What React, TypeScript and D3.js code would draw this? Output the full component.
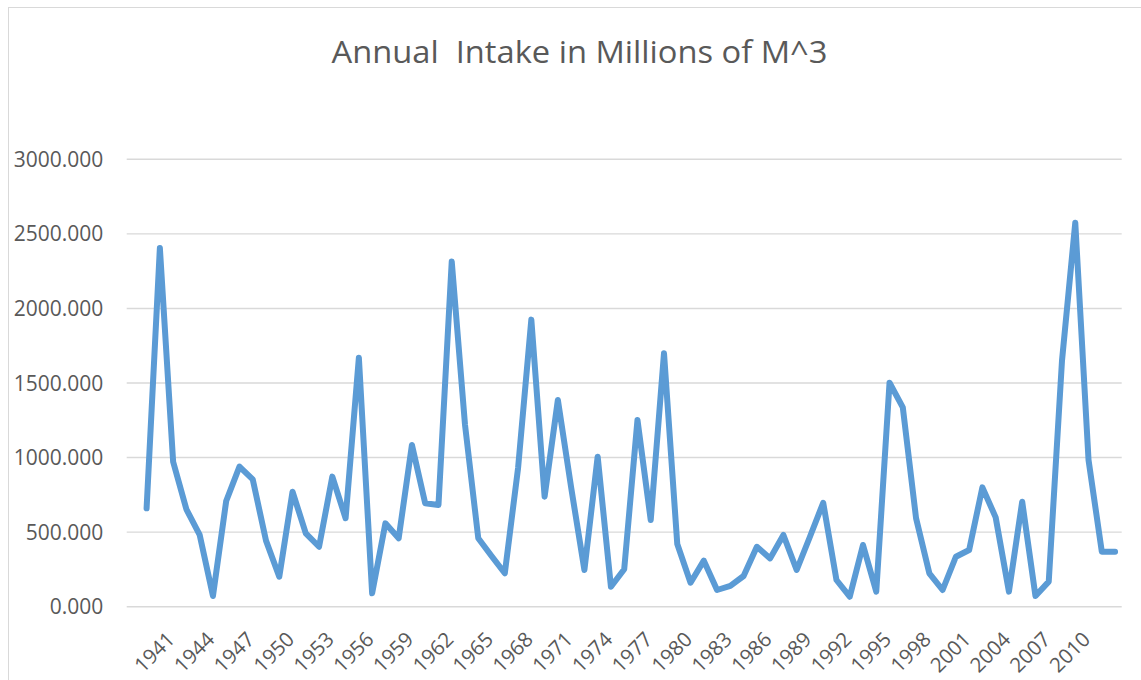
import React from "react";
import * as d3 from "d3";

const TITLE = "Annual  Intake in Millions of M^3";

const categories: string[] = [
  "", "1939", "1940", "1941", "1942", "1943", "1944", "1945", "1946", "1947", "1948",
  "1949", "1950", "1951", "1952", "1953", "1954", "1955", "1956", "1957", "1958",
  "1959", "1960", "1961", "1962", "1963", "1964", "1965", "1966", "1967", "1968",
  "1969", "1970", "1971", "1972", "1973", "1974", "1975", "1976", "1977", "1978",
  "1979", "1980", "1981", "1982", "1983", "1984", "1985", "1986", "1987", "1988",
  "1989", "1990", "1991", "1992", "1993", "1994", "1995", "1996", "1997", "1998",
  "1999", "2000", "2001", "2002", "2003", "2004", "2005", "2006", "2007", "2008",
  "2009", "2010", "2011", "2012",
];

const intake: (number | null)[] = [
  null, 660, 2405, 972, 653, 481, 72, 709, 939, 854, 443,
  201, 771, 492, 402, 872, 593, 1670, 90, 559, 459,
  1084, 693, 682, 2314, 1220, 459, 340, 224, 930, 1925,
  738, 1386, 800, 246, 1006, 134, 251, 1252, 581, 1699,
  420, 161, 309, 112, 139, 206, 402, 324, 481, 246,
  469, 697, 179, 67, 414, 101, 1502, 1337, 593, 224,
  112, 335, 380, 800, 599, 101, 704, 72, 168, 1650,
  2575, 984, 369, 369,
];

const yTicks: number[] = [0, 500, 1000, 1500, 2000, 2500, 3000];

const W = 1141;
const H = 680;
const left = 126.7;
const right = 1121.7;
const top = 159.3;
const bottom = 606.7;
const FONT = "'Open Sans', 'Noto Sans', sans-serif";
const TEXT = "#595959";

export default function App() {
  const x = d3.scaleBand<string>().domain(categories.map((c, i) => String(i))).range([left, right]).padding(0);
  const bw = x.bandwidth();
  const cx = (i: number) => (x(String(i)) as number) + bw / 2;
  const y = d3.scaleLinear().domain([0, 3000]).range([bottom, top]);
  const fmt = d3.format(".3f");

  const pts = intake.map((v, i) => ({ i, v }));
  const line = d3
    .line<{ i: number; v: number | null }>()
    .defined((d) => d.v !== null)
    .x((d) => cx(d.i))
    .y((d) => y(d.v as number));

  const labelIdx = categories.map((_, i) => i).filter((i) => i % 3 === 0 && categories[i] !== "");

  return (
    <svg
      width={W}
      height={H}
      style={{ display: "block", position: "absolute", left: 0, top: 0 }}
    >
      <rect x={0} y={0} width={W} height={H} fill="#ffffff" />
      <line x1={8.5} y1={7.5} x2={8.5} y2={H} stroke="#D9D9D9" strokeWidth={1} />
      <line x1={8} y1={7.5} x2={W} y2={7.5} stroke="#D9D9D9" strokeWidth={1} />
      <text
        x={579.5}
        y={63.3}
        textAnchor="middle"
        fontFamily={FONT}
        fontSize={31.5}
        fill={TEXT}
        textLength={496}
        lengthAdjust="spacingAndGlyphs"
        style={{ whiteSpace: "pre" }}
      >
        {TITLE}
      </text>
      {yTicks.map((t) => (
        <g key={t}>
          <line x1={left} x2={right} y1={y(t)} y2={y(t)} stroke="#D9D9D9" strokeWidth={1.4} />
          <text
            x={103.3}
            y={y(t)}
            dy="0.36em"
            textAnchor="end"
            fontFamily={FONT}
            fontSize={21}
            fill={TEXT}
          >
            {fmt(t)}
          </text>
        </g>
      ))}
      {labelIdx.map((i) => {
        const ax = cx(i) + 3;
        const ay = bottom + 34;
        return (
          <text
            key={i}
            x={ax}
            y={ay}
            textAnchor="end"
            fontFamily={FONT}
            fontSize={20.5}
            fill={TEXT}
            transform={`rotate(-45 ${ax} ${ay})`}
          >
            {categories[i]}
          </text>
        );
      })}
      <path
        d={line(pts) || ""}
        fill="none"
        stroke="#5B9BD5"
        strokeWidth={6}
        strokeLinejoin="round"
        strokeLinecap="round"
      />
    </svg>
  );
}
